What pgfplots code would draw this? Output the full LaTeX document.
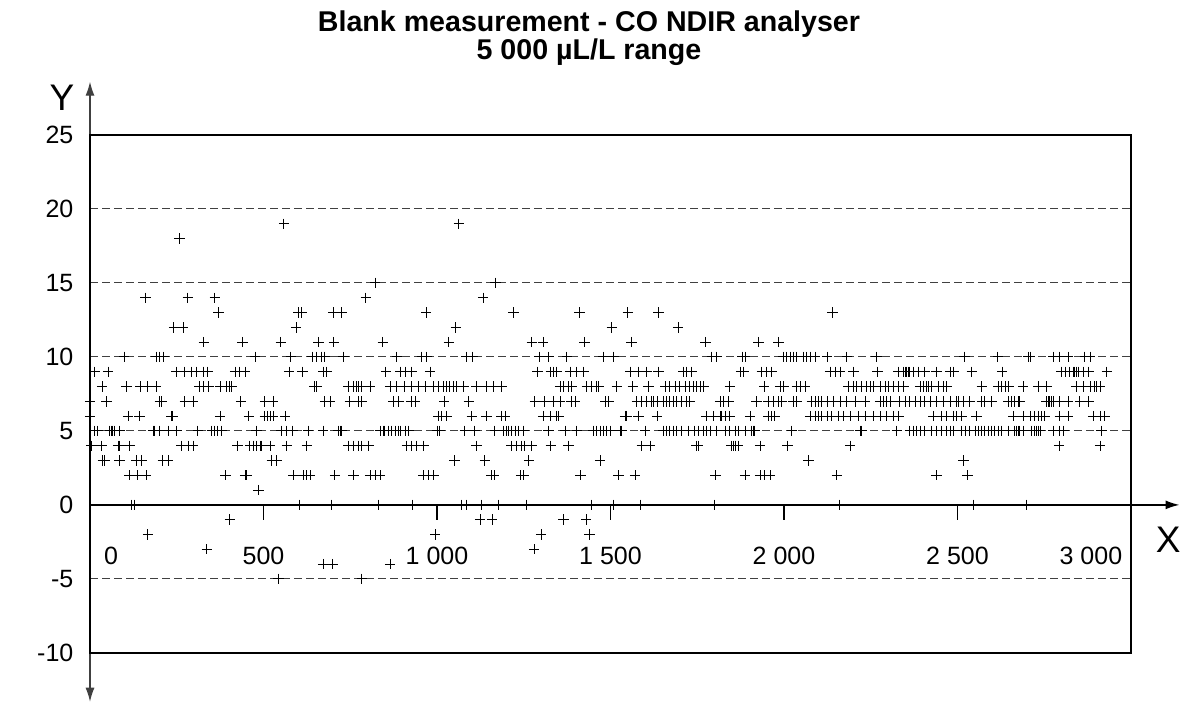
\documentclass[border=0pt]{standalone}
\usepackage{fontspec}
\setmainfont{Liberation Sans}
\usepackage{pgfplots}
\pgfplotsset{compat=1.18}
\usetikzlibrary{arrows.meta}
\begin{document}
\begin{tikzpicture}
\begin{axis}[
  scale only axis, width=544.75pt, height=310pt,
  xmin=0, xmax=3140, ymin=-13.3, ymax=28.6,
  axis x line*=middle, axis y line*=left,
  x axis line style={-{Latex[length=7pt,width=4.5pt]}, line width=0.8pt, black},
  y axis line style={{Latex[length=7pt,width=4.5pt]}-{Latex[length=7pt,width=4.5pt]}, line width=0.6pt, black!75},
  xtick=\empty,
  ytick={-10,-5,0,5,10,15,20,25},
  yticklabels={-10,-5,0,5,10,15,20,25},
  major tick length=0pt,
  yticklabel style={font=\fontsize{12.5}{15}\selectfont, anchor=east, xshift=-4.8pt},
  clip=false,
]
\draw[black!75, line width=0.5pt, dash pattern=on 4pt off 2pt]
  (axis cs:0,20) -- (axis cs:3000,20)
  (axis cs:0,15) -- (axis cs:3000,15)
  (axis cs:0,10) -- (axis cs:3000,10)
  (axis cs:0,5) -- (axis cs:3000,5)
  (axis cs:0,-5) -- (axis cs:3000,-5);
\draw[black, line width=0.8pt] (axis cs:0,-10) rectangle (axis cs:3000,25);
\draw[black, line width=0.8pt]
  (axis cs:500,0) -- (axis cs:500,-1.0)
  (axis cs:1000,0) -- (axis cs:1000,-1.0)
  (axis cs:1500,0) -- (axis cs:1500,-1.0)
  (axis cs:2000,0) -- (axis cs:2000,-1.0)
  (axis cs:2500,0) -- (axis cs:2500,-1.0)
  (axis cs:3000,0) -- (axis cs:3000,-1.0);
\addplot[only marks, mark=+, mark size=2.6pt, black, mark options={line width=0.5pt}] coordinates {
(559,19) (1063,19)
(258,18)
(822,15) (1169,15)
(160,14) (282,14) (360,14) (795,14) (1133,14)
(370,13) (600,13) (610,13) (701,13) (725,13) (969,13) (1220,13) (1411,13) (1550,13) (1638,13) (2140,13)
(242,12) (268,12) (594,12) (1054,12) (1504,12) (1695,12)
(328,11) (439,11) (550,11) (658,11) (703,11) (844,11) (1034,11) (1273,11) (1306,11) (1425,11) (1560,11) (1774,11) (1926,11) (1984,11)
(98,10) (191,10) (201,10) (213,10) (476,10) (579,10) (641,10) (653,10) (668,10) (677,10) (730,10) (884,10) (956,10) (970,10) (1085,10) (1102,10) (1294,10) (1321,10) (1374,10) (1480,10) (1509,10) (1792,10) (1806,10) (1880,10) (1888,10) (1999,10) (2008,10) (2018,10) (2027,10) (2037,10) (2056,10) (2066,10) (2075,10) (2090,10) (2124,10) (2181,10) (2266,10) (2520,10) (2616,10) (2704,10) (2709,10) (2776,10) (2795,10) (2819,10) (2867,10) (2882,10)
(13,9) (52,9) (249,9) (273,9) (292,9) (307,9) (326,9) (340,9) (418,9) (432,9) (447,9) (574,9) (612,9) (673,9) (682,9) (853,9) (894,9) (908,9) (927,9) (980,9) (1290,9) (1328,9) (1336,9) (1345,9) (1384,9) (1403,9) (1422,9) (1557,9) (1581,9) (1605,9) (1638,9) (1710,9) (1720,9) (1734,9) (1876,9) (1883,9) (1936,9) (1950,9) (1965,9) (2133,9) (2148,9) (2162,9) (2200,9) (2270,9) (2330,9) (2344,9) (2349,9) (2354,9) (2358,9) (2363,9) (2373,9) (2387,9) (2406,9) (2440,9) (2479,9) (2488,9) (2541,9) (2629,9) (2800,9) (2810,9) (2824,9) (2834,9) (2838,9) (2843,9) (2848,9) (2862,9) (2877,9) (2930,9)
(35,8) (105,8) (146,8) (167,8) (191,8) (316,8) (326,8) (341,8) (375,8) (394,8) (401,8) (408,8) (647,8) (653,8) (745,8) (759,8) (769,8) (774,8) (783,8) (807,8) (865,8) (884,8) (905,8) (927,8) (946,8) (966,8) (990,8) (1004,8) (1018,8) (1028,8) (1037,8) (1047,8) (1056,8) (1076,8) (1114,8) (1143,8) (1162,8) (1186,8) (1355,8) (1364,8) (1379,8) (1388,8) (1432,8) (1446,8) (1460,8) (1465,8) (1518,8) (1564,8) (1609,8) (1658,8) (1671,8) (1686,8) (1700,8) (1715,8) (1729,8) (1739,8) (1748,8) (1758,8) (1768,8) (1844,8) (1943,8) (1989,8) (1998,8) (2037,8) (2047,8) (2061,8) (2186,8) (2200,8) (2210,8) (2224,8) (2239,8) (2248,8) (2258,8) (2277,8) (2292,8) (2301,8) (2316,8) (2330,8) (2344,8) (2392,8) (2402,8) (2411,8) (2416,8) (2426,8) (2445,8) (2459,8) (2469,8) (2570,8) (2618,8) (2628,8) (2637,8) (2647,8) (2689,8) (2733,8) (2757,8) (2843,8) (2862,8) (2882,8) (2896,8) (2901,8) (2911,8)
(0,7) (47,7) (201,7) (207,7) (273,7) (297,7) (435,7) (504,7) (528,7) (677,7) (692,7) (749,7) (773,7) (783,7) (874,7) (889,7) (927,7) (937,7) (1021,7) (1092,7) (1282,7) (1311,7) (1336,7) (1355,7) (1388,7) (1398,7) (1485,7) (1494,7) (1576,7) (1590,7) (1605,7) (1619,7) (1624,7) (1634,7) (1653,7) (1662,7) (1671,7) (1681,7) (1691,7) (1705,7) (1719,7) (1729,7) (1816,7) (1825,7) (1840,7) (1921,7) (1955,7) (1969,7) (1984,7) (1993,7) (2027,7) (2037,7) (2080,7) (2090,7) (2099,7) (2109,7) (2124,7) (2143,7) (2162,7) (2181,7) (2205,7) (2234,7) (2277,7) (2287,7) (2296,7) (2306,7) (2334,7) (2349,7) (2363,7) (2378,7) (2392,7) (2406,7) (2421,7) (2440,7) (2459,7) (2479,7) (2498,7) (2503,7) (2517,7) (2536,7) (2570,7) (2579,7) (2599,7) (2647,7) (2656,7) (2665,7) (2675,7) (2680,7) (2757,7) (2762,7) (2766,7) (2771,7) (2776,7) (2795,7) (2819,7) (2853,7) (2877,7)
(0,6) (110,6) (143,6) (234,6) (239,6) (375,6) (458,6) (504,6) (512,6) (519,6) (528,6) (562,6) (1004,6) (1013,6) (1028,6) (1100,6) (1143,6) (1186,6) (1196,6) (1306,6) (1326,6) (1345,6) (1350,6) (1542,6) (1547,6) (1581,6) (1634,6) (1777,6) (1796,6) (1816,6) (1820,6) (1830,6) (1844,6) (1902,6) (1955,6) (1965,6) (1974,6) (2075,6) (2090,6) (2099,6) (2109,6) (2124,6) (2138,6) (2157,6) (2172,6) (2191,6) (2215,6) (2234,6) (2258,6) (2277,6) (2296,6) (2316,6) (2330,6) (2431,6) (2455,6) (2469,6) (2488,6) (2498,6) (2512,6) (2555,6) (2661,6) (2689,6) (2709,6) (2723,6) (2733,6) (2742,6) (2752,6) (2795,6) (2819,6) (2891,6) (2911,6) (2925,6)
(13,5) (23,5) (57,5) (61,5) (66,5) (71,5) (85,5) (182,5) (186,5) (201,5) (225,5) (249,5) (311,5) (351,5) (360,5) (368,5) (379,5) (480,5) (552,5) (567,5) (583,5) (629,5) (672,5) (716,5) (721,5) (725,5) (836,5) (846,5) (850,5) (860,5) (870,5) (879,5) (889,5) (894,5) (908,5) (918,5) (1000,5) (1008,5) (1080,5) (1109,5) (1167,5) (1191,5) (1201,5) (1205,5) (1215,5) (1225,5) (1234,5) (1249,5) (1321,5) (1369,5) (1403,5) (1451,5) (1461,5) (1470,5) (1480,5) (1489,5) (1499,5) (1528,5) (1533,5) (1600,5) (1653,5) (1662,5) (1671,5) (1681,5) (1691,5) (1705,5) (1724,5) (1743,5) (1753,5) (1768,5) (1777,5) (1787,5) (1806,5) (1830,5) (1844,5) (1859,5) (1868,5) (1888,5) (1907,5) (1912,5) (1916,5) (2023,5) (2220,5) (2224,5) (2325,5) (2363,5) (2373,5) (2382,5) (2392,5) (2406,5) (2426,5) (2440,5) (2455,5) (2469,5) (2479,5) (2488,5) (2512,5) (2522,5) (2536,5) (2551,5) (2560,5) (2570,5) (2579,5) (2589,5) (2599,5) (2608,5) (2618,5) (2628,5) (2647,5) (2665,5) (2670,5) (2675,5) (2680,5) (2689,5) (2713,5) (2723,5) (2728,5) (2733,5) (2738,5) (2776,5) (2795,5) (2805,5) (2915,5)
(3,4) (33,4) (81,4) (85,4) (114,4) (263,4) (283,4) (297,4) (425,4) (461,4) (471,4) (480,4) (490,4) (495,4) (519,4) (567,4) (625,4) (745,4) (759,4) (773,4) (783,4) (802,4) (913,4) (927,4) (942,4) (961,4) (1114,4) (1215,4) (1229,4) (1244,4) (1253,4) (1273,4) (1328,4) (1379,4) (1590,4) (1614,4) (1748,4) (1753,4) (1849,4) (1854,4) (1859,4) (1868,4) (1931,4) (2010,4) (2191,4) (2793,4) (2911,4)
(37,3) (42,3) (85,3) (133,3) (148,3) (210,3) (225,3) (524,3) (538,3) (1050,3) (1138,3) (1265,3) (1470,3) (2071,3) (2517,3)
(114,2) (138,2) (162,2) (391,2) (447,2) (452,2) (586,2) (615,2) (625,2) (634,2) (706,2) (759,2) (807,2) (822,2) (836,2) (961,2) (975,2) (990,2) (1157,2) (1165,2) (1242,2) (1250,2) (1414,2) (1523,2) (1571,2) (1803,2) (1888,2) (1931,2) (1945,2) (1960,2) (2152,2) (2440,2) (2529,2)
(485,1)
(121,0) (127,0) (605,0) (697,0) (831,0) (930,0) (1071,0) (1085,0) (1129,0) (1177,0) (1258,0) (1446,0) (1509,0) (1585,0) (1801,0) (2160,0) (2546,0) (2699,0)
(403,-1) (1124,-1) (1159,-1) (1364,-1) (1430,-1)
(167,-2) (995,-2) (1300,-2) (1439,-2)
(337,-3) (1280,-3)
(672,-4) (700,-4) (865,-4)
(543,-5) (783,-5)
};
\node[font=\fontsize{12.5}{15}\selectfont, anchor=west] at (axis cs:20,-3.45) {0};
\node[font=\fontsize{12.5}{15}\selectfont] at (axis cs:500,-3.45) {500};
\node[font=\fontsize{12.5}{15}\selectfont] at (axis cs:1000,-3.45) {1 000};
\node[font=\fontsize{12.5}{15}\selectfont] at (axis cs:1500,-3.45) {1 500};
\node[font=\fontsize{12.5}{15}\selectfont] at (axis cs:2000,-3.45) {2 000};
\node[font=\fontsize{12.5}{15}\selectfont] at (axis cs:2500,-3.45) {2 500};
\node[font=\fontsize{12.5}{15}\selectfont, anchor=east] at (axis cs:2995,-3.45) {3 000};
\node[font=\fontsize{18.5}{22}\selectfont] at (axis cs:3107,-2.36) {X};
\node[font=\fontsize{18.5}{22}\selectfont] at (axis cs:-81,27.5) {Y};
\node[font=\bfseries\fontsize{14.3}{14}\selectfont, align=center] at (axis cs:1438,31.55) {Blank measurement - CO NDIR analyser\\5 000 µL/L range};
\coordinate (bbSW) at (axis cs:-259.4,-13.45);
\coordinate (bbNE) at (axis cs:3147,34.12);
\end{axis}
\pgfresetboundingbox
\path[use as bounding box] (bbSW) rectangle (bbNE);
\end{tikzpicture}
\end{document}
